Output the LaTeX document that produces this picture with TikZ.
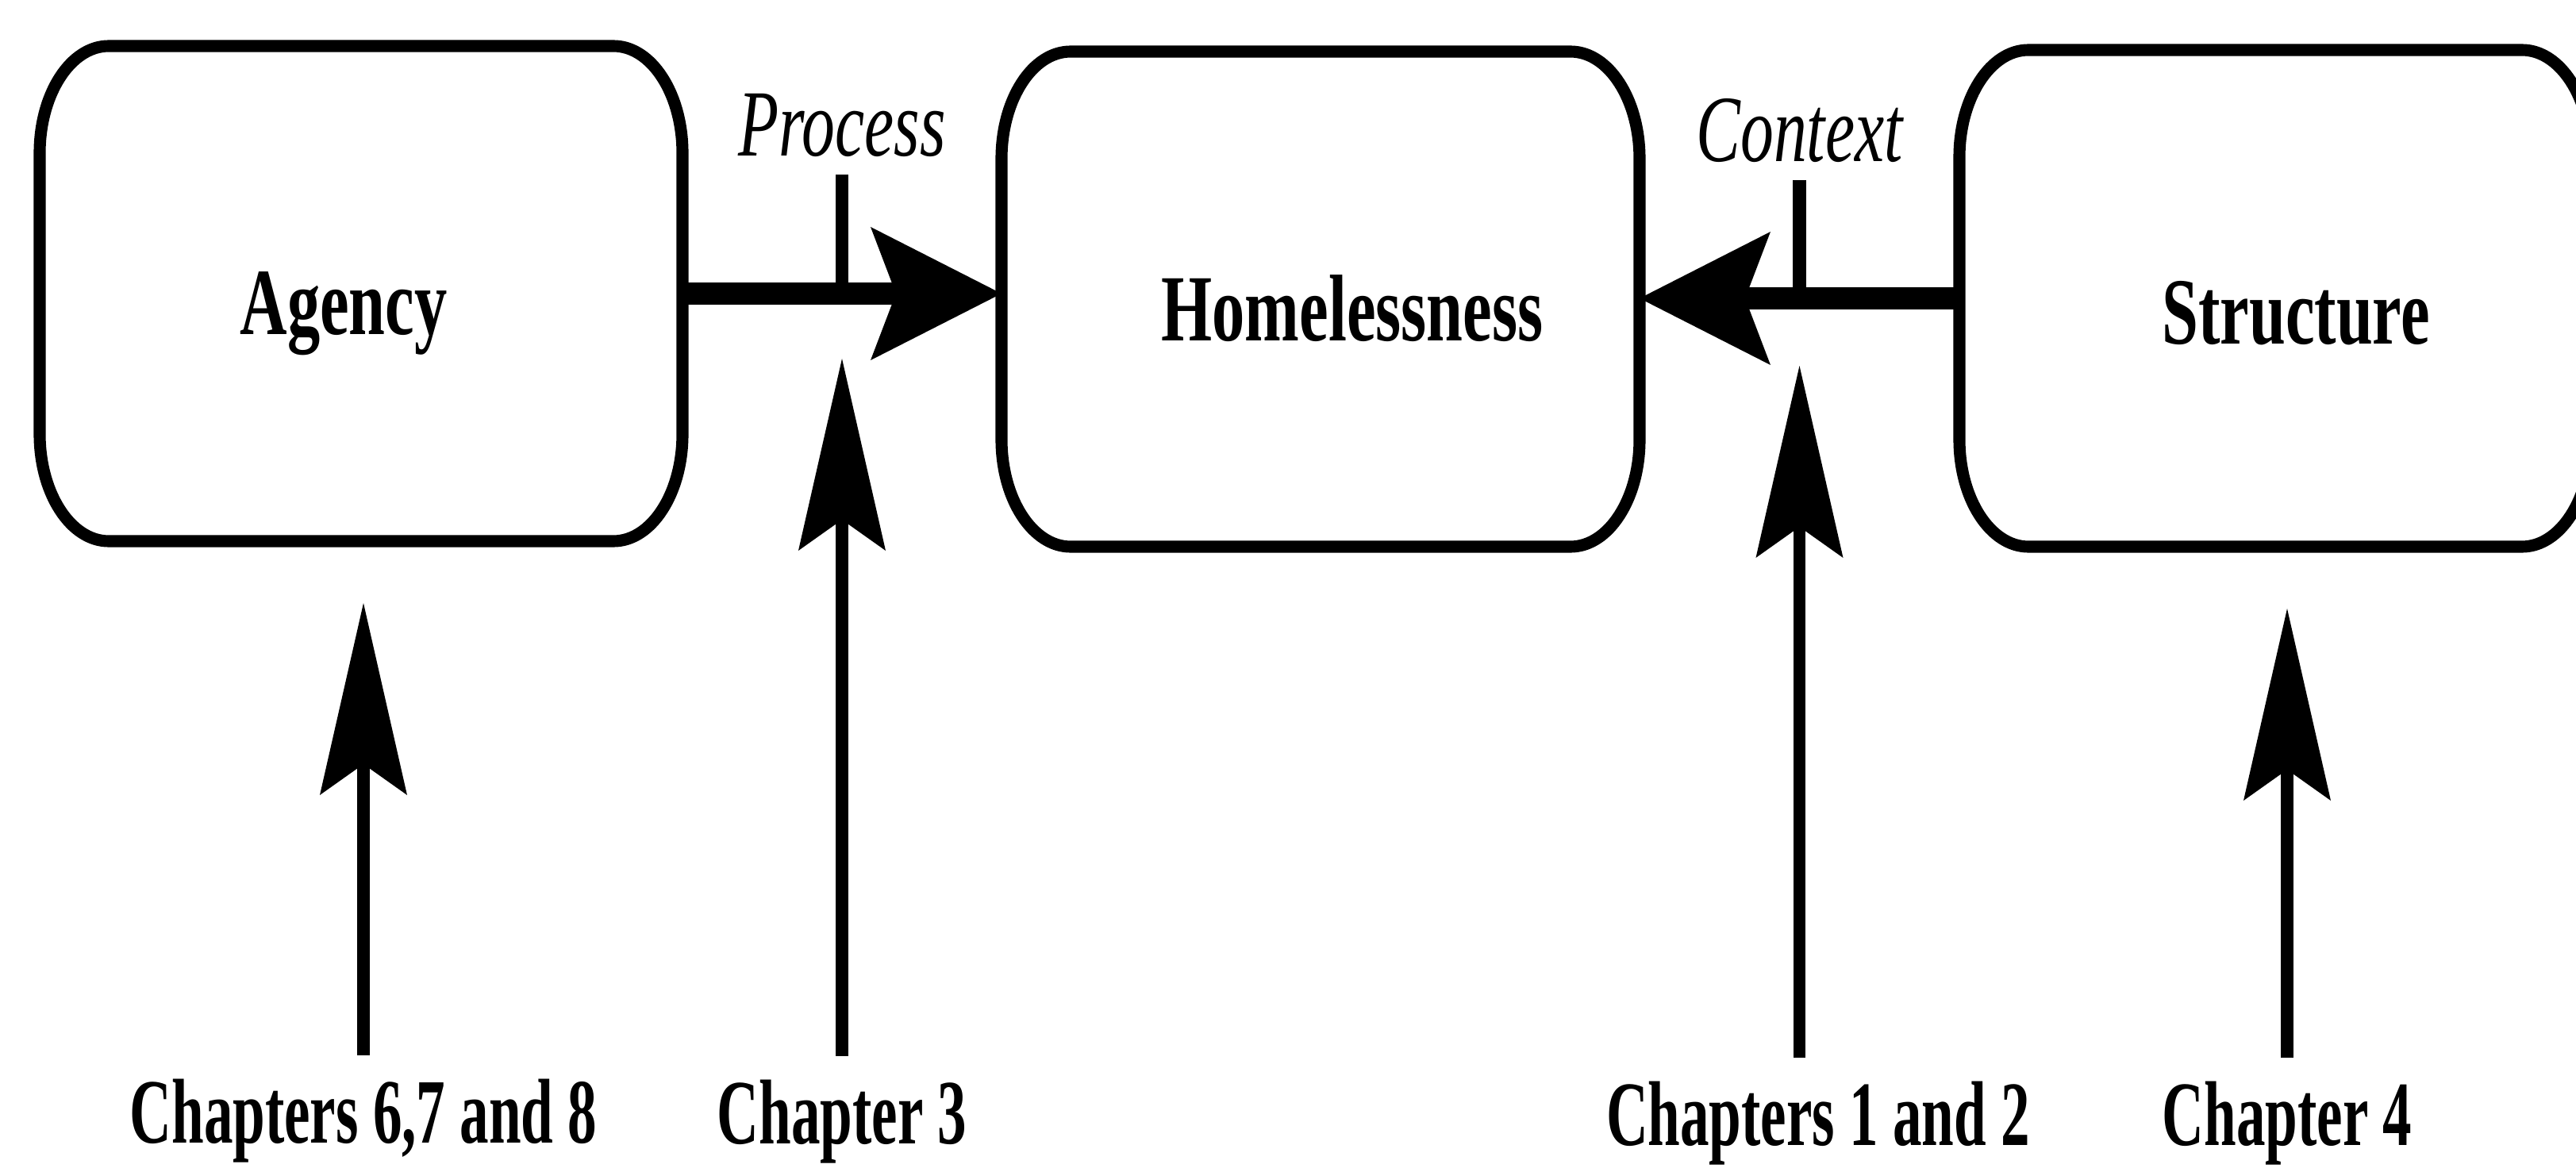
\documentclass[tikz,border=0pt]{standalone}
\usepackage{fontspec}
\setmainfont{Liberation Serif}
\newfontfamily\boxfont{Liberation Serif}[FakeStretch=0.69]
\newfontfamily\chapfont{Liberation Serif}[FakeStretch=0.63]
\newfontfamily\cuefont{Liberation Serif}[FakeStretch=0.70]
\usetikzlibrary{arrows.meta,calc}

\begin{document}
\begin{tikzpicture}[
    box/.style={inner sep=0pt, outer sep=0pt, minimum height=6.24cm},
    rim/.style={line width=4.3pt},
    flow/.style={line width=8.2pt, -{Stealth[length=1.65cm, width=1.68cm, inset=0.32cm, line width=0pt]}},
    feed/.style={line width=4.3pt, -{Stealth[length=2.42cm, width=1.1cm, inset=0.39cm, line width=0pt]}},
    tickline/.style={line width=4.6pt},
    title/.style={anchor=base, inner sep=0pt, font=\boxfont\bfseries\fontsize{34}{40}\selectfont},
    cue/.style={anchor=base, inner sep=0pt, outer sep=0.22cm, font=\cuefont\itshape\fontsize{34}{40}\selectfont},
    chap/.style={anchor=base, inner sep=0pt, outer sep=0.30cm, font=\chapfont\bfseries\fontsize{33}{40}\selectfont}
  ]
      \useasboundingbox (0,0) rectangle (32.46,14.71);
      \def\rx{0.87cm}
      \def\ry{1.35cm}

      % BOXES
      \node[box, minimum width=8.10cm] (agency) at (4.55,11.01) {};
      \node[box, minimum width=8.04cm] (home) at (16.64,10.94) {};
      \node[box, minimum width=7.96cm, minimum height=6.26cm] (struct) at (28.67,10.95) {};
      \foreach \n in {agency,home,struct}
        \draw[rim] ([xshift=\rx]\n.north west) -- ([xshift=-\rx]\n.north east)
          arc[start angle=90, end angle=0, x radius=\rx, y radius=\ry]
          -- ([yshift=\ry]\n.south east)
          arc[start angle=0, end angle=-90, x radius=\rx, y radius=\ry]
          -- ([xshift=\rx]\n.south west)
          arc[start angle=270, end angle=180, x radius=\rx, y radius=\ry]
          -- ([yshift=-\ry]\n.north west)
          arc[start angle=180, end angle=90, x radius=\rx, y radius=\ry] -- cycle;

      \node[title] (agencytxt) at (4.33,10.49) {Agency};
      \node[title] (hometxt) at (17.04,10.41) {Homelessness};
      \node[title] (structtxt) at (28.93,10.37) {Structure};

      % MAIN ARROWS
      \draw[flow] (agency.east) -- (agency.east -| home.west);
      \draw[flow] (struct.west) -- (struct.west -| home.east);
      \coordinate (procpt) at ($(agency.east)!0.5!(agency.east -| home.west)$);
      \coordinate (ctxpt) at ($(struct.west)!0.5!(struct.west -| home.east)$);

      % PROCESS AND CONTEXT
      \node[cue] (proc) at ($(procpt)+(0,1.73)$) {Process};
      \node[cue] (ctx) at ($(ctxpt)+(0,1.72)$) {Context};
      \draw[tickline] (procpt) -- (proc.south);
      \draw[tickline] (ctxpt) -- (ctx.south);

      % CHAPTERS
      \node[chap] (ch68) at (4.58,0.31) {Chapters 6,7 and 8};
      \node[chap] (ch3) at (10.61,0.30) {Chapter 3};
      \node[chap] (ch12) at (22.91,0.28) {Chapters 1 and 2};
      \node[chap] (ch4) at (28.82,0.28) {Chapter 4};
      \draw[feed] (ch68.north) -- ([yshift=-0.78cm]ch68.north |- agency.south);
      \draw[feed] (procpt |- ch3.north) -- ([yshift=-0.82cm]procpt);
      \draw[feed] (ctxpt |- ch12.north) -- ([yshift=-0.85cm]ctxpt);
      \draw[feed] (ch4.north) -- ([yshift=-0.78cm]ch4.north |- struct.south);
\end{tikzpicture}
\end{document}
